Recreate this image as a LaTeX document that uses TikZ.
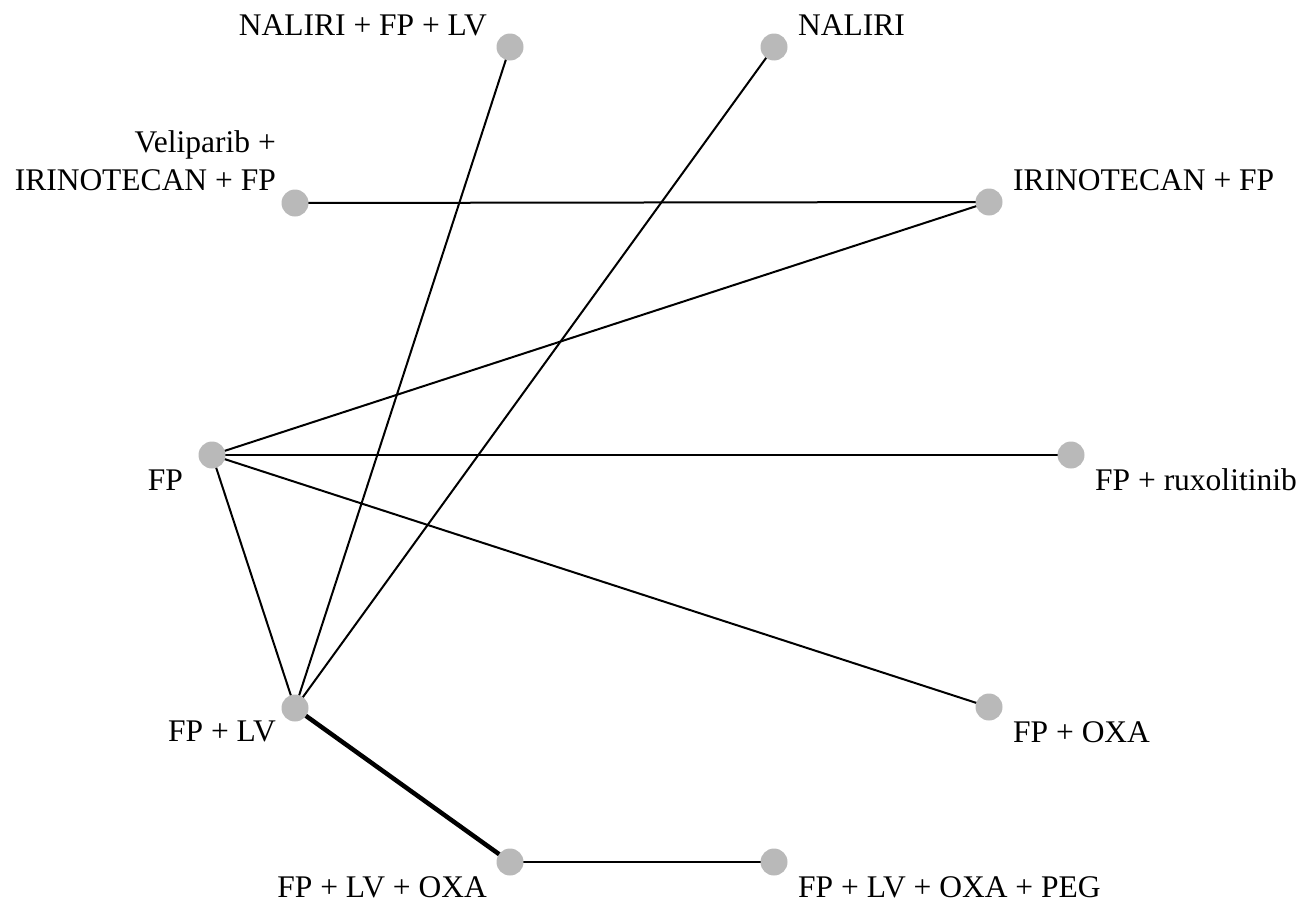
\documentclass[tikz,border=0pt]{standalone}
\usepackage{fontspec}
\setmainfont{Liberation Serif}
\begin{document}
\begin{tikzpicture}[x=1pt,y=-1pt,
  trt/.style={circle,fill=gray!55,inner sep=0pt,minimum size=27pt},
  lab/.style={inner sep=0pt,font=\fontsize{31.5}{36}\selectfont},
  link/.style={line width=2pt,black},
  heavy/.style={line width=4.5pt,black}]
\useasboundingbox (0,0) rectangle (1309,902);
% treatment positions
\coordinate (nfl) at (510,47);
\coordinate (nal) at (774,47);
\coordinate (vel) at (295,203);
\coordinate (irf) at (989,202);
\coordinate (fp)  at (212,455);
\coordinate (rux) at (1071,455);
\coordinate (flv) at (295,708);
\coordinate (fox) at (989,707);
\coordinate (flo) at (510,862);
\coordinate (peg) at (774,862);
% comparisons
\draw[link] (vel) -- (irf);
\draw[link] (irf) -- (fp);
\draw[link] (fp) -- (rux);
\draw[link] (fp) -- (fox);
\draw[link] (fp) -- (flv);
\draw[link] (flv) -- (nfl);
\draw[link] (flv) -- (nal);
\draw[heavy] (flv) -- (flo);
\draw[link] (flo) -- (peg);
% treatment nodes
\foreach \p in {nfl,nal,vel,irf,fp,rux,flv,fox,flo,peg}
  \node[trt] (n-\p) at (\p) {};
% labels
\node[lab,anchor=base east] (l-nfl) at (487,35) {NALIRI + FP + LV};
\node[lab,anchor=base west] (l-nal) at (798,35) {NALIRI};
\node[lab,anchor=base east] (l-vel1) at (276,152) {Veliparib +};
\node[lab,anchor=base east] (l-vel2) at (276,190) {IRINOTECAN + FP};
\node[lab,anchor=base west] (l-irf) at (1013,190) {IRINOTECAN + FP};
\node[lab,anchor=base east] (l-fp) at (183,490) {FP};
\node[lab,anchor=base west] (l-rux) at (1095,490) {FP + ruxolitinib};
\node[lab,anchor=base east] (l-flv) at (276,741) {FP + LV};
\node[lab,anchor=base west] (l-fox) at (1013,742) {FP + OXA};
\node[lab,anchor=base east] (l-flo) at (487,897) {FP + LV + OXA};
\node[lab,anchor=base west] (l-peg) at (798,897) {FP + LV + OXA + PEG};
\end{tikzpicture}
\end{document}
